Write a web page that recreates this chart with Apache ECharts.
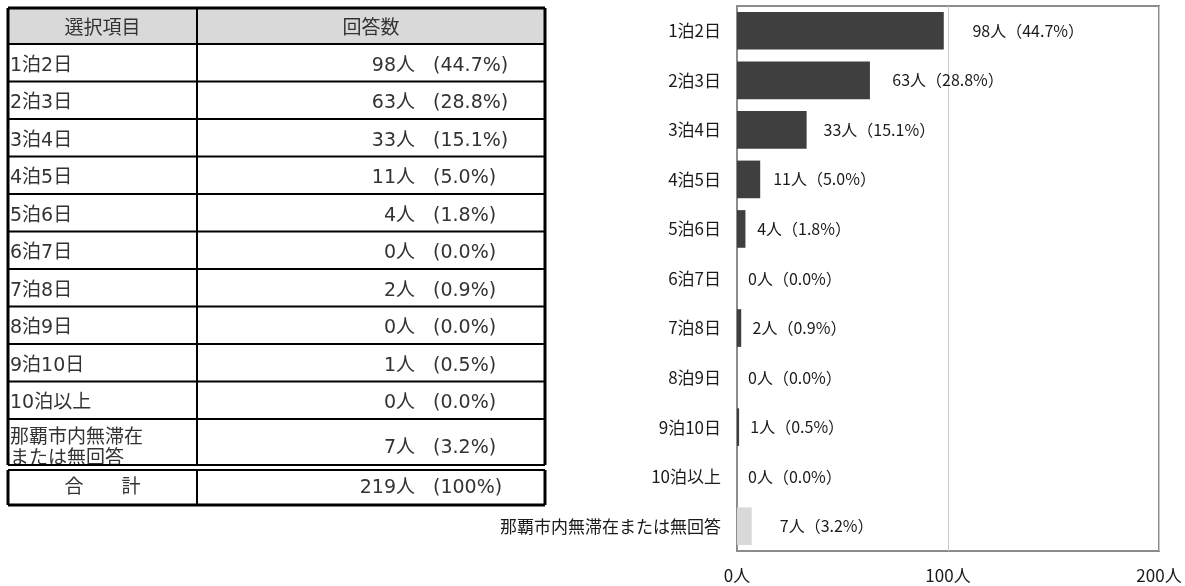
<!DOCTYPE html>
<html>
<head>
<meta charset="utf-8">
<script src="https://cdn.jsdelivr.net/npm/echarts@6/dist/echarts.min.js"></script>
<style>
  html, body { margin: 0; padding: 0; background: #fff; }
  #chart { width: 1185px; height: 586px; }
</style>
</head>
<body>
<div id="chart"></div>
<script>
// 宿泊日数の回答
const categories = ['1泊2日', '2泊3日', '3泊4日', '4泊5日', '5泊6日', '6泊7日', '7泊8日', '8泊9日', '9泊10日', '10泊以上', '那覇市内無滞在または無回答'];
const tableLabels = ['1泊2日', '2泊3日', '3泊4日', '4泊5日', '5泊6日', '6泊7日', '7泊8日', '8泊9日', '9泊10日', '10泊以上', '那覇市内無滞在\nまたは無回答'];
const counts = [98, 63, 33, 11, 4, 0, 2, 0, 1, 0, 7];
const percents = [44.7, 28.8, 15.1, 5.0, 1.8, 0.0, 0.9, 0.0, 0.5, 0.0, 3.2];
const totalCount = 219;
const totalPercent = 100;
const headers = ['選択項目', '回答数'];
const totalLabel = '合　　計';
const xTicks = [0, 100, 200];

const JP = '"Noto Sans CJK JP", "Noto Sans", sans-serif';
const TABLE_FONT = '"DejaVu Sans", "Noto Sans CJK JP", sans-serif';

// ---- table (left) ----
const T = { x0: 8, x1: 197, x2: 545, top: 8, head: 44, rowH: 37.5, lastRowH: 46, totalH: 35, gap: 5 };
const g = [];
const line = (x1, y1, x2, y2, w, z) => g.push({ type: 'line', shape: { x1, y1, x2, y2 }, style: { stroke: '#000', lineWidth: w }, z: z || 10 });
const text = (t, x, y, align) => g.push({
  type: 'text', z: 11,
  style: { text: t, x, y, fill: '#333', font: '19px ' + TABLE_FONT, align, verticalAlign: 'middle', lineHeight: 21 }
});

// header background
g.push({ type: 'rect', shape: { x: T.x0, y: T.top, width: T.x2 - T.x0, height: T.head - T.top }, style: { fill: '#d9d9d9' }, z: 5 });
text(headers[0], (T.x0 + T.x1) / 2, (T.top + T.head) / 2 + 3, 'center');
text(headers[1], (T.x1 + T.x2) / 2, (T.top + T.head) / 2 + 3, 'center');

const countX = 415, pctX = 433;
let y = T.head;
const rowYs = [T.top, T.head];
tableLabels.forEach((lab, i) => {
  const isLast = i === tableLabels.length - 1;
  const h = isLast ? T.lastRowH : T.rowH;
  const cy = y + h / 2 + 3;
  text(lab, T.x0 + 2, isLast ? cy + 4 : cy, 'left');
  text(counts[i] + '人', countX, isLast ? cy + 3 : cy, 'right');
  text('(' + percents[i].toFixed(1) + '%)', pctX, isLast ? cy + 3 : cy, 'left');
  y += h;
  rowYs.push(y);
});
// the two-line label is cut off by the double rule
g.push({ type: 'rect', shape: { x: T.x0, y: y, width: T.x2 - T.x0, height: T.gap }, style: { fill: '#fff' }, z: 12 });
const totalTop = y + T.gap;
const totalBottom = totalTop + T.totalH;
text(totalLabel, (T.x0 + T.x1) / 2, (totalTop + totalBottom) / 2 + 1, 'center');
text(totalCount + '人', countX, (totalTop + totalBottom) / 2 + 1, 'right');
text('(' + totalPercent + '%)', pctX, (totalTop + totalBottom) / 2 + 1, 'left');

// rules
rowYs.forEach((ry, i) => line(T.x0, ry, T.x2, ry, i === 0 ? 3 : 2));
line(T.x0, y, T.x2, y, 2, 13);
line(T.x0, totalTop, T.x2, totalTop, 2, 13);
line(T.x0, totalBottom, T.x2, totalBottom, 3);
line(T.x0, T.top, T.x0, y, 3);
line(T.x1, T.top, T.x1, y, 2);
line(T.x2, T.top, T.x2, y, 3);
line(T.x0, totalTop, T.x0, totalBottom, 3);
line(T.x1, totalTop, T.x1, totalBottom, 2);
line(T.x2, totalTop, T.x2, totalBottom, 3);

// ---- bar chart (right) ----
const lastIdx = counts.length - 1;
const barData = counts.map((v, i) => ({
  value: v,
  pct: percents[i],
  itemStyle: { color: i === lastIdx ? '#d9d9d9' : '#3f3f3f' },
  label: { distance: i === lastIdx ? 28 : 11 + v * 0.18 }
}));

const chart = echarts.init(document.getElementById('chart'), null, { renderer: 'canvas' });
chart.setOption({
  animation: false,
  backgroundColor: '#fff',
  grid: { left: 737, right: 26, top: 6, bottom: 35, show: true, borderColor: '#8c8c8c', borderWidth: 2, backgroundColor: 'transparent' },
  xAxis: {
    type: 'value', min: xTicks[0], max: xTicks[xTicks.length - 1], interval: 100,
    axisLine: { show: false }, axisTick: { show: false },
    splitLine: { show: true, lineStyle: { color: '#c8c8c8', width: 1 } },
    axisLabel: { formatter: '{value}人', fontFamily: JP, fontSize: 17, color: '#1a1a1a', margin: 16 }
  },
  yAxis: {
    type: 'category', data: categories, inverse: true,
    axisLine: { show: true, lineStyle: { color: '#8c8c8c', width: 2 } },
    axisTick: { show: false },
    axisLabel: { fontFamily: JP, fontSize: 17, color: '#1a1a1a', margin: 16 }
  },
  series: [{
    type: 'bar', data: barData, barCategoryGap: '24%',
    label: {
      show: true, position: 'right', fontFamily: JP, fontSize: 16, color: '#1a1a1a',
      formatter: p => p.data.value + '人（' + p.data.pct.toFixed(1) + '%）'
    }
  }],
  graphic: g
});
</script>
</body>
</html>
